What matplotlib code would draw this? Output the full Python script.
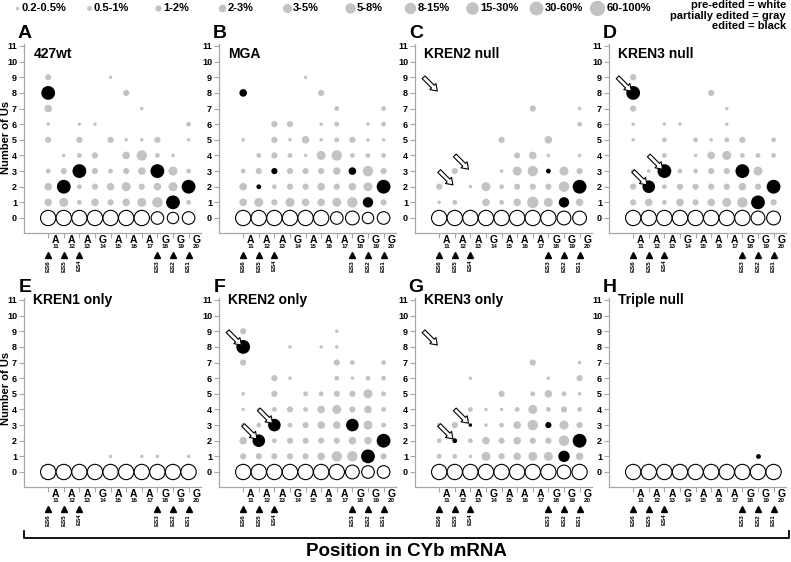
import numpy as np
import matplotlib
matplotlib.use("Agg")
import matplotlib.pyplot as plt
from matplotlib.patches import FancyArrowPatch
from matplotlib.lines import Line2D

plt.rcParams['font.family'] = ['Liberation Sans', 'DejaVu Sans']
plt.rcParams['font.weight'] = 'bold'

# ── Data ────────────────────────────────────────────────────────────────────
# percentage bins (1..10); a cell value of 0 means no sequences
bin_labels = ['0.2-0.5%', '0.5-1%', '1-2%', '2-3%', '3-5%',
              '5-8%', '8-15%', '15-30%', '30-60%', '60-100%']

nucleotides = ['A', 'A', 'A', 'G', 'A', 'A', 'A', 'G', 'G', 'G']
positions = [11, 12, 13, 14, 15, 16, 17, 18, 19, 20]
es_labels = ['ES6', 'ES5', 'ES4', 'ES3', 'ES2', 'ES1']
es_cols = [0, 1, 2, 7, 8, 9]

# rows of the gray grids = number of Us, from 9 down to 1
gray_levels = [9, 8, 7, 6, 5, 4, 3, 2, 1]

gray_A = [[3, 0, 0, 0, 1, 0, 0, 0, 0, 0],
          [0, 0, 0, 0, 0, 3, 0, 0, 0, 0],
          [4, 0, 0, 0, 0, 0, 1, 0, 0, 0],
          [1, 0, 1, 1, 0, 0, 0, 0, 0, 2],
          [3, 0, 3, 0, 3, 1, 1, 3, 0, 1],
          [0, 1, 2, 3, 0, 4, 6, 2, 1, 0],
          [2, 3, 0, 3, 2, 3, 4, 0, 5, 2],
          [4, 0, 2, 3, 4, 5, 3, 4, 5, 0],
          [4, 5, 2, 4, 3, 4, 5, 6, 0, 2]]
black_A = [(0, 8, 9), (2, 3, 9), (7, 3, 9), (1, 2, 9), (9, 2, 9), (8, 1, 9)]
white_A = [10, 10, 10, 10, 10, 10, 10, 8, 7, 8]

gray_B = [[0, 0, 0, 0, 1, 0, 0, 0, 0, 0],
          [0, 0, 0, 0, 0, 3, 0, 0, 0, 0],
          [0, 0, 0, 0, 0, 0, 2, 0, 0, 2],
          [0, 0, 3, 3, 0, 1, 2, 0, 1, 2],
          [1, 0, 3, 1, 4, 1, 2, 3, 1, 1],
          [0, 2, 3, 2, 1, 5, 6, 2, 2, 2],
          [2, 3, 0, 3, 3, 3, 4, 0, 6, 3],
          [4, 0, 2, 3, 3, 4, 3, 4, 5, 0],
          [4, 5, 3, 5, 4, 4, 5, 6, 0, 3]]
black_B = [(0, 8, 4), (2, 3, 3), (7, 3, 4), (1, 2, 2), (9, 2, 9), (8, 1, 6)]
white_B = [10, 10, 10, 10, 10, 10, 8, 9, 7, 8]

gray_C = [[0, 0, 0, 0, 0, 0, 0, 0, 0, 0],
          [0, 0, 0, 0, 0, 0, 0, 0, 0, 0],
          [0, 0, 0, 0, 0, 0, 3, 0, 0, 1],
          [0, 0, 0, 0, 0, 0, 0, 0, 0, 2],
          [0, 0, 0, 0, 3, 0, 0, 4, 0, 0],
          [0, 0, 0, 0, 0, 3, 4, 1, 0, 1],
          [0, 3, 0, 0, 1, 5, 6, 0, 5, 3],
          [3, 0, 1, 5, 2, 3, 3, 3, 6, 0],
          [1, 2, 0, 4, 2, 4, 7, 5, 0, 4]]
black_C = [(7, 3, 2), (9, 2, 9), (8, 1, 6)]
white_C = [10, 10, 10, 10, 10, 10, 10, 10, 9, 9]

gray_D = [[3, 0, 0, 0, 0, 0, 0, 0, 0, 0],
          [0, 0, 0, 0, 0, 3, 0, 0, 0, 0],
          [3, 0, 0, 0, 0, 0, 1, 0, 0, 0],
          [1, 0, 1, 1, 0, 0, 1, 0, 0, 0],
          [1, 0, 2, 0, 2, 1, 2, 3, 0, 2],
          [0, 0, 2, 0, 1, 4, 5, 2, 2, 2],
          [2, 1, 0, 2, 2, 3, 3, 0, 5, 0],
          [3, 0, 2, 3, 3, 3, 3, 4, 3, 0],
          [3, 4, 2, 4, 3, 4, 5, 6, 0, 3]]
black_D = [(0, 8, 9), (2, 3, 9), (7, 3, 9), (1, 2, 8), (9, 2, 9), (8, 1, 9)]
white_D = [10, 10, 10, 10, 10, 10, 10, 10, 9, 9]

gray_E = [[0] * 10] * 8 + [[0, 0, 0, 0, 1, 0, 1, 1, 0, 1]]
black_E = []
white_E = [10, 10, 10, 10, 10, 10, 10, 10, 10, 10]

gray_F = [[3, 0, 0, 0, 0, 0, 1, 0, 0, 0],
          [0, 0, 0, 1, 0, 1, 1, 0, 0, 0],
          [3, 0, 0, 0, 0, 0, 3, 2, 0, 2],
          [0, 0, 3, 1, 0, 0, 2, 1, 2, 2],
          [1, 0, 3, 0, 2, 2, 3, 3, 5, 2],
          [1, 1, 2, 3, 2, 4, 5, 3, 4, 2],
          [2, 2, 0, 2, 3, 4, 4, 0, 5, 2],
          [4, 0, 2, 3, 3, 3, 3, 4, 4, 0],
          [3, 3, 3, 3, 3, 4, 6, 6, 0, 3]]
black_F = [(0, 8, 9), (2, 3, 8), (7, 3, 8), (1, 2, 8), (9, 2, 9), (8, 1, 9)]
white_F = [10, 10, 10, 10, 10, 10, 10, 9, 8, 8]

gray_G = [[0, 0, 0, 0, 0, 0, 0, 0, 0, 0],
          [0, 0, 0, 0, 0, 0, 0, 0, 0, 0],
          [0, 0, 0, 0, 0, 0, 3, 0, 0, 1],
          [0, 0, 1, 0, 0, 0, 0, 1, 0, 3],
          [0, 0, 0, 0, 3, 0, 2, 4, 2, 1],
          [0, 0, 2, 1, 1, 2, 5, 2, 3, 2],
          [2, 3, 0, 1, 2, 4, 6, 0, 5, 3],
          [2, 0, 2, 4, 3, 4, 3, 3, 6, 0],
          [2, 2, 1, 5, 3, 4, 5, 5, 0, 4]]
black_G = [(2, 3, 1), (7, 3, 3), (1, 2, 2), (9, 2, 9), (8, 1, 7)]
white_G = [10, 10, 10, 10, 10, 10, 10, 10, 9, 10]

gray_H = [[0] * 10] * 9
black_H = [(8, 1, 2)]
white_H = [10, 10, 10, 10, 10, 10, 10, 10, 10, 10]

panel_letters = ['A', 'B', 'C', 'D', 'E', 'F', 'G', 'H']
panel_titles = ['427wt', 'MGA', 'KREN2 null', 'KREN3 null',
                'KREN1 only', 'KREN2 only', 'KREN3 only', 'Triple null']
# sites marked with open arrows (column, number of Us)
arrow_sites = [(0, 8), (1, 2), (2, 3)]
arrow_panels = ['C', 'D', 'F', 'G']

# ── Style ───────────────────────────────────────────────────────────────────
W, H = 791, 562
GRAY = '#c3c3c3'
AXGRAY = '#a8a8a8'
bin_diam = [3.5, 4.8, 6.2, 7.6, 9.0, 10.4, 11.4, 12.6, 13.8, 15.3]  # px


def msize(b):
    return (bin_diam[b - 1] * 0.72) ** 2


fig = plt.figure(figsize=(W / 100, H / 100), dpi=100)

col_left = [24, 219, 415, 609]
row_bottom = [233, 487]
unit = 15.6
xlim = (-1.55, 9.8)
ylim = (-0.96, 11.15)
ax_w = (xlim[1] - xlim[0]) * unit
ax_h = (ylim[1] - ylim[0]) * 15.636

grays = [gray_A, gray_B, gray_C, gray_D, gray_E, gray_F, gray_G, gray_H]
blacks = [black_A, black_B, black_C, black_D, black_E, black_F, black_G, black_H]
whites = [white_A, white_B, white_C, white_D, white_E, white_F, white_G, white_H]

for p in range(8):
    r, c = divmod(p, 4)
    left, bot = col_left[c], row_bottom[r]
    ax = fig.add_axes([left / W, (H - bot) / H, ax_w / W, ax_h / H])
    ax.set_xlim(*xlim)
    ax.set_ylim(*ylim)
    for s in ['top', 'right']:
        ax.spines[s].set_visible(False)
    for s in ['left', 'bottom']:
        ax.spines[s].set_color(AXGRAY)
        ax.spines[s].set_linewidth(0.9)
    ax.set_xticks(range(10))
    ax.set_xticklabels([])
    ax.set_yticks(range(12))
    ax.set_yticklabels([str(i) for i in range(12)], fontsize=6.5, fontweight='bold')
    ax.tick_params(axis='both', length=3.5, width=0.8, color=AXGRAY, pad=1.5)

    # gray (partially edited)
    g = np.array(grays[p])
    xs, ys, ss = [], [], []
    for ri, u in enumerate(gray_levels):
        for ci in range(10):
            if g[ri, ci] > 0:
                xs.append(ci); ys.append(u); ss.append(msize(g[ri, ci]))
    if xs:
        ax.scatter(xs, ys, s=ss, color=GRAY, linewidths=0, zorder=2)
    # black (edited)
    if blacks[p]:
        bx = [b[0] for b in blacks[p]]
        by = [b[1] for b in blacks[p]]
        bs = [msize(b[2]) for b in blacks[p]]
        ax.scatter(bx, by, s=bs, color='black', linewidths=0, zorder=3)
    # white (pre-edited)
    ax.scatter(range(10), [0] * 10, s=[msize(v) for v in whites[p]],
               facecolors='white', edgecolors='black', linewidths=0.8, zorder=3)

    # sequence labels
    for i in range(10):
        ax.text(i + 0.5, -1.4, nucleotides[i], ha='center', va='center',
                fontsize=7.5, fontweight='bold', clip_on=False)
        ax.text(i + 0.5, -1.85, str(positions[i]), ha='center', va='center',
                fontsize=4.5, fontweight='bold', clip_on=False)
    for lab, col in zip(es_labels, es_cols):
        ax.plot(col, -2.35, marker='^', ms=4.5, color='black', clip_on=False)
        ax.text(col, -3.05, lab, rotation=90, ha='center', va='center',
                fontsize=4.5, fontweight='bold', clip_on=False)

    ax.text(-0.95, 10.5 if r == 0 else 11.0, panel_titles[p], ha='left', va='center',
            fontsize=10, fontweight='bold')

    if panel_letters[p] in arrow_panels:
        for (x, y) in arrow_sites:
            arr = FancyArrowPatch((x - 1.0, y + 1.0), (x - 0.12, y + 0.12),
                                  arrowstyle='simple,head_length=0.45,head_width=0.62,tail_width=0.28',
                                  mutation_scale=10, fc='white', ec='black', lw=0.8,
                                  shrinkA=0, shrinkB=0, zorder=5, clip_on=False)
            ax.add_patch(arr)

    fig.text((left + 1) / W, 1 - (33 if r == 0 else 287) / H, panel_letters[p],
             ha='center', va='center', fontsize=14, fontweight='bold')

# y labels
for yc in [137, 388]:
    fig.text(6 / W, 1 - yc / H, 'Number of Us', rotation=90, ha='center', va='center',
             fontsize=8, fontweight='bold')

# legend
text_left = [21, 93, 163, 228, 293, 357, 418, 480, 545, 607]
for i, (lab, tx) in enumerate(zip(bin_labels, text_left)):
    d = bin_diam[i]
    cx = tx - 2 - d / 2
    fig.add_artist(Line2D([cx / W], [1 - 8 / H], marker='o', ms=d * 0.72, color=GRAY,
                          mec='none', transform=fig.transFigure))
    fig.text(tx / W, 1 - 8 / H, lab, ha='left', va='center', fontsize=8, fontweight='bold')

for txt, yy in zip(['pre-edited = white', 'partially edited = gray', 'edited = black'],
                   [5, 16, 26]):
    fig.text(786 / W, 1 - yy / H, txt, ha='right', va='center', fontsize=8, fontweight='bold')

# bottom bracket + axis title
fig.add_artist(Line2D([24 / W, 24 / W, 789 / W, 789 / W],
                      [1 - 531 / H, 1 - 538 / H, 1 - 538 / H, 1 - 531 / H],
                      color='black', lw=1.3, transform=fig.transFigure))
fig.text(406 / W, 1 - 552 / H, 'Position in CYb mRNA', ha='center', va='center',
         fontsize=13.5, fontweight='bold')

fig.savefig('out.png', dpi=100)
